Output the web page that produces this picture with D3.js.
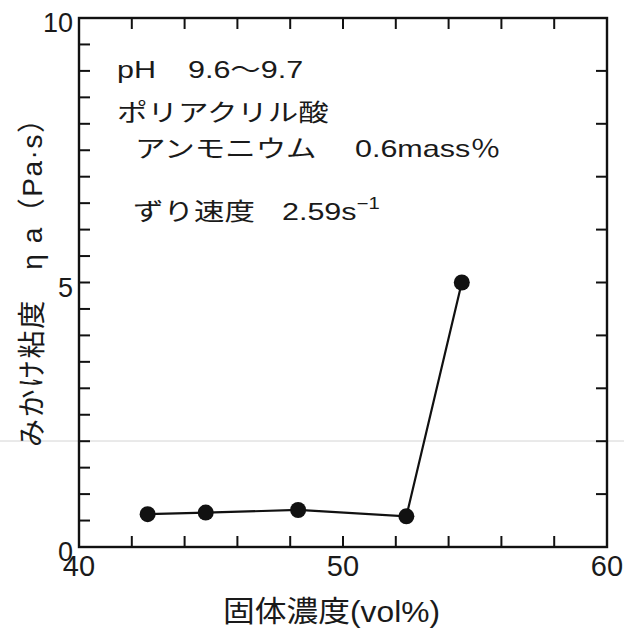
<!DOCTYPE html>
<html>
<head>
<meta charset="utf-8">
<script src="https://cdn.jsdelivr.net/npm/d3@7"></script>
<style>
body { margin: 0; background: #fff; }
text { font-family: "Liberation Sans", Arial, "Noto Sans CJK JP", sans-serif; fill: #1a1a1a; }
</style>
</head>
<body>
<svg id="chart" width="624" height="633"></svg>
<script>
// data
var solids = [42.6, 44.8, 48.3, 52.4, 54.5];
var viscosity = [0.62, 0.65, 0.7, 0.58, 5.0];
var xTickLabels = [40, 50, 60];
var yTickLabels = [0, 5, 10];
var noteLabels = ["pH", "ポリアクリル酸", "アンモニウム", "ずり速度"];
var noteValues = ["9.6～9.7", "", "0.6mass％", "2.59s"];

(function() {
var svg = d3.select('#chart');
var plotL = 79, plotR = 607, plotT = 18, plotB = 547;

var x = d3.scaleLinear().domain([40, 60]).range([plotL, plotR]);
var y = d3.scaleLinear().domain([0, 10]).range([plotB, plotT]);

// faint scan line
svg.append('line').attr('x1', 0).attr('x2', 624).attr('y1', 441).attr('y2', 441)
  .attr('stroke', '#d4d4d4').attr('stroke-width', 1);

var g = svg.append('g');

// frame
g.append('rect').attr('x', plotL).attr('y', plotT)
  .attr('width', plotR - plotL).attr('height', plotB - plotT)
  .attr('fill', 'none').attr('stroke', '#111').attr('stroke-width', 2.4);

// ticks, all pointing inward
var tl = 11;
function tick(x1, y1, x2, y2) {
  g.append('line').attr('x1', x1).attr('y1', y1).attr('x2', x2).attr('y2', y2)
    .attr('stroke', '#111').attr('stroke-width', 2);
}
d3.range(42, 60, 2).forEach(function(v) {
  tick(x(v), plotB, x(v), plotB - tl);
  tick(x(v), plotT, x(v), plotT + tl);
});
d3.range(0.5, 10, 0.5).forEach(function(v) {
  tick(plotL, y(v), plotL + tl, y(v));
});
d3.range(1, 10, 1).forEach(function(v) {
  tick(plotR, y(v), plotR - tl, y(v));
});

// tick labels
xTickLabels.forEach(function(v) {
  g.append('text').attr('x', x(v)).attr('y', plotB + 29)
    .attr('text-anchor', 'middle').attr('font-size', 29).text(v);
});
yTickLabels.forEach(function(v) {
  g.append('text').attr('x', 73).attr('y', y(v) + 14)
    .attr('text-anchor', 'end').attr('font-size', 27).text(v);
});

// data
var line = d3.line().x(function(d, i) { return x(solids[i]); }).y(function(d) { return y(d); });
g.append('path').datum(viscosity).attr('d', line)
  .attr('fill', 'none').attr('stroke', '#111').attr('stroke-width', 2.2);
g.selectAll('circle.pt').data(viscosity).enter().append('circle')
  .attr('class', 'pt')
  .attr('cx', function(d, i) { return x(solids[i]); })
  .attr('cy', function(d) { return y(d); })
  .attr('r', 8).attr('fill', '#111');

// annotations (the scan is stretched sideways, so scale the text)
var labelX = [117, 117, 135, 133], valueX = [188, 0, 355, 282];
var baseY = [78, 121, 157, 220];
function stretched(tx, ty, s) {
  return g.append('text').attr('transform', 'translate(' + tx + ',' + ty + ') scale(1.27,1)')
    .attr('font-size', 24).text(s);
}
noteLabels.forEach(function(t, i) {
  stretched(labelX[i], baseY[i], t);
  if (noteValues[i]) {
    var v = stretched(valueX[i], baseY[i], noteValues[i]);
    if (i === 3) v.append('tspan').attr('dy', -11).attr('font-size', 16).text('−1');
  }
});

// axis titles
svg.append('text').attr('x', 223).attr('y', 622)
  .attr('font-size', 29).attr('textLength', 217).attr('lengthAdjust', 'spacingAndGlyphs')
  .text('固体濃度(vol%)');
svg.append('text').attr('transform', 'translate(42,447) rotate(-90)')
  .attr('font-size', 28).attr('textLength', 342).attr('lengthAdjust', 'spacing')
  .text('みかけ粘度　η a（Pa·s）');
})();
</script>
</body>
</html>
